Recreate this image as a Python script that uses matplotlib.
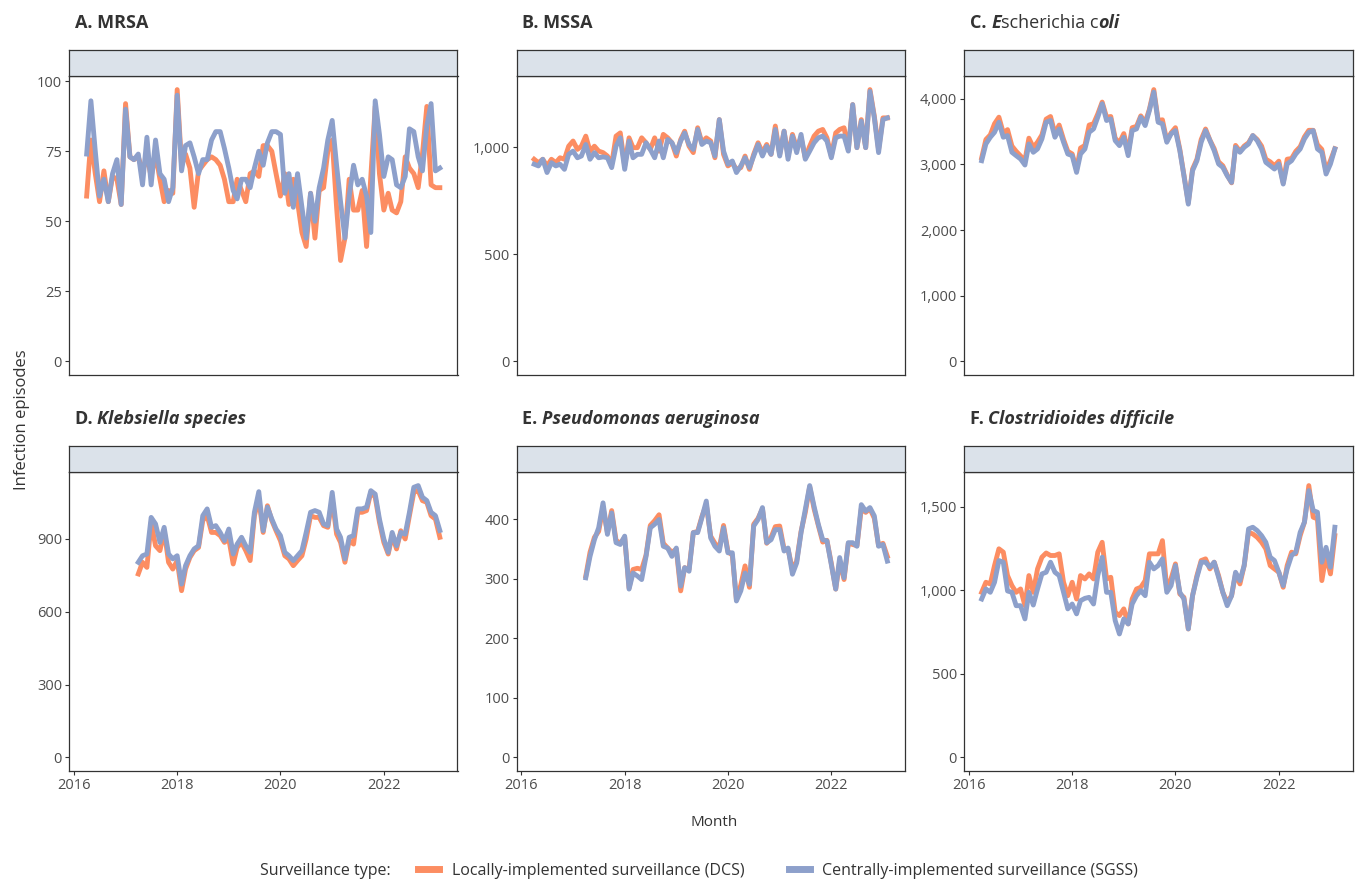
import matplotlib
matplotlib.use("Agg")
import matplotlib.pyplot as plt
import matplotlib.dates as mdates
from matplotlib.lines import Line2D
from matplotlib.ticker import MultipleLocator, FuncFormatter
import pandas as pd

# monthly infection episodes
months_long = pd.date_range("2016-04-01", "2023-02-01", freq="MS")
months_short = pd.date_range("2017-04-01", "2023-02-01", freq="MS")

mrsa_dcs = [59, 79, 67, 57, 68, 57, 66, 65, 56, 92,
            73, 72, 73, 68, 73, 66, 74, 65, 57, 61,
            60, 97, 70, 74, 69, 55, 68, 70, 72, 73,
            72, 70, 65, 57, 57, 65, 61, 57, 67, 68,
            66, 77, 77, 75, 67, 59, 67, 56, 65, 57,
            46, 41, 60, 44, 61, 62, 75, 79, 55, 36,
            44, 65, 54, 54, 61, 41, 66, 91, 67, 54,
            60, 54, 53, 57, 73, 69, 67, 62, 74, 91,
            63, 62, 62]
mrsa_sgss = [74, 93, 75, 59, 65, 57, 67, 72, 56, 90,
             73, 72, 74, 63, 80, 63, 79, 67, 65, 57,
             62, 95, 68, 77, 78, 73, 67, 72, 72, 79,
             82, 82, 76, 69, 61, 58, 65, 65, 62, 69,
             75, 70, 78, 82, 82, 81, 60, 67, 55, 67,
             55, 44, 60, 50, 62, 69, 79, 86, 70, 57,
             44, 59, 70, 63, 65, 59, 46, 93, 81, 66,
             73, 72, 63, 62, 66, 83, 82, 73, 68, 84,
             92, 68, 69]

mssa_dcs = [943, 927, 943, 912, 943, 927, 950, 943, 1004, 1028,
            989, 1004, 1051, 981, 1004, 981, 974, 958, 920, 1051,
            1066, 912, 1043, 997, 997, 1043, 1020, 989, 1043, 981,
            1059, 1043, 1020, 958, 1035, 1074, 1004, 974, 1090, 1020,
            1043, 1028, 950, 1128, 966, 912, 927, 896, 904, 958,
            896, 966, 1020, 974, 1012, 966, 1098, 966, 1074, 958,
            1059, 997, 1043, 950, 1004, 1051, 1074, 1082, 1043, 958,
            1066, 1082, 1090, 989, 1198, 997, 1128, 997, 1268, 1144,
            989, 1136, 1136]
mssa_sgss = [920, 912, 943, 881, 927, 912, 920, 896, 966, 981,
             950, 958, 1012, 943, 974, 950, 954, 950, 904, 1004,
             1043, 896, 1028, 950, 966, 966, 1020, 989, 950, 1028,
             950, 1035, 1020, 974, 1028, 1066, 1012, 989, 1082, 1012,
             1028, 1020, 958, 1128, 981, 920, 935, 881, 912, 950,
             904, 958, 1012, 958, 1004, 966, 1082, 958, 1074, 943,
             1051, 974, 1059, 943, 981, 1020, 1043, 1051, 1028, 950,
             1043, 1051, 1051, 981, 1198, 997, 1121, 997, 1260, 1136,
             974, 1128, 1136]

ecoli_dcs = [3100, 3380, 3450, 3620, 3720, 3480, 3530, 3280, 3200, 3130,
             3060, 3400, 3260, 3340, 3450, 3690, 3730, 3470, 3600, 3380,
             3200, 3160, 2920, 3250, 3290, 3600, 3620, 3770, 3950, 3720,
             3730, 3400, 3330, 3470, 3180, 3560, 3580, 3740, 3640, 3840,
             4140, 3670, 3680, 3360, 3480, 3560, 3230, 2840, 2420, 2930,
             3080, 3380, 3540, 3370, 3240, 3040, 2980, 2840, 2720, 3290,
             3200, 3280, 3330, 3440, 3380, 3280, 3080, 3040, 2980, 3050,
             2720, 3080, 3090, 3200, 3270, 3420, 3520, 3520, 3300, 3230,
             2900, 3060, 3240]
ecoli_sgss = [3057, 3312, 3414, 3490, 3643, 3414, 3440, 3185, 3134, 3083,
              2991, 3312, 3185, 3236, 3389, 3643, 3669, 3414, 3541, 3338,
              3159, 3134, 2879, 3159, 3236, 3490, 3541, 3720, 3924, 3669,
              3694, 3363, 3287, 3414, 3134, 3516, 3541, 3720, 3592, 3822,
              4102, 3643, 3618, 3338, 3465, 3516, 3210, 2828, 2395, 2905,
              3057, 3338, 3516, 3363, 3210, 3007, 2956, 2828, 2726, 3261,
              3185, 3261, 3312, 3440, 3363, 3236, 3032, 2981, 2930, 3007,
              2701, 3007, 3057, 3159, 3236, 3389, 3490, 3516, 3236, 3185,
              2854, 3007, 3236]

kleb_dcs = [756, 804, 783, 969, 872, 852, 934, 804, 776, 811,
            687, 776, 824, 852, 865, 976, 996, 927, 927, 914,
            886, 900, 797, 865, 886, 852, 811, 996, 1065, 927,
            1037, 976, 934, 893, 831, 818, 790, 811, 831, 900,
            996, 989, 989, 955, 948, 1065, 920, 886, 804, 893,
            879, 1010, 1010, 1017, 1092, 1072, 969, 886, 838, 914,
            859, 934, 900, 996, 1092, 1099, 1058, 1051, 996, 982,
            907]
kleb_sgss = [804, 831, 838, 989, 962, 886, 948, 838, 818, 831,
             714, 790, 831, 859, 872, 996, 1024, 948, 955, 927,
             893, 941, 838, 879, 907, 872, 845, 1010, 1095, 934,
             1031, 982, 941, 914, 845, 831, 811, 831, 852, 927,
             1010, 1017, 1010, 962, 955, 1092, 941, 907, 818, 907,
             914, 1024, 1024, 1031, 1099, 1085, 982, 900, 845, 927,
             872, 927, 920, 1010, 1113, 1120, 1072, 1058, 1010, 996,
             935]

pseud_dcs = [305, 345, 370, 380, 420, 378, 415, 365, 360, 370,
             285, 316, 318, 316, 340, 390, 398, 408, 360, 352,
             345, 350, 280, 319, 316, 378, 380, 405, 425, 372,
             360, 352, 390, 346, 340, 265, 290, 322, 286, 392,
             402, 418, 360, 370, 388, 389, 350, 350, 316, 330,
             380, 412, 455, 418, 390, 362, 365, 326, 283, 330,
             299, 360, 358, 356, 418, 412, 418, 402, 356, 360,
             338]
pseud_sgss = [302, 338, 366, 386, 428, 375, 411, 361, 358, 372,
              283, 310, 305, 299, 338, 386, 392, 400, 355, 352,
              338, 352, 288, 319, 313, 378, 378, 403, 431, 369,
              355, 347, 386, 344, 344, 263, 280, 310, 291, 389,
              400, 420, 361, 366, 383, 383, 347, 352, 308, 327,
              378, 417, 457, 422, 392, 366, 364, 324, 283, 336,
              302, 361, 361, 355, 425, 414, 420, 406, 355, 358,
              330]

cdiff_dcs = [987, 1047, 1037, 1147, 1247, 1227, 1087, 1027, 987, 1007,
             907, 1087, 987, 1127, 1197, 1222, 1207, 1207, 1217, 1047,
             967, 1047, 947, 1087, 1067, 1097, 1067, 1227, 1286, 1067,
             1077, 868, 848, 888, 798, 947, 1007, 1017, 1057, 1217,
             1217, 1217, 1296, 1007, 1067, 1157, 977, 957, 768, 967,
             1087, 1177, 1187, 1127, 1167, 1087, 987, 927, 967, 1097,
             1037, 1147, 1346, 1336, 1316, 1286, 1247, 1147, 1127, 1107,
             1017, 1147, 1227, 1217, 1326, 1406, 1625, 1436, 1426, 1057,
             1207, 1097, 1326]
cdiff_sgss = [947, 1007, 987, 1047, 1177, 1167, 995, 987, 907, 907,
              828, 987, 911, 1007, 1097, 1107, 1167, 1107, 1087, 987,
              888, 917, 858, 937, 951, 957, 917, 1087, 1197, 987,
              987, 818, 738, 828, 798, 917, 967, 997, 967, 1167,
              1127, 1147, 1187, 987, 1027, 1147, 987, 947, 768, 967,
              1077, 1167, 1167, 1137, 1167, 1077, 987, 907, 967, 1107,
              1057, 1147, 1366, 1376, 1356, 1326, 1286, 1197, 1177, 1107,
              1027, 1127, 1207, 1227, 1346, 1406, 1595, 1476, 1466, 1167,
              1256, 1137, 1376]

series_names = ["Locally-implemented surveillance (DCS)",
                "Centrally-implemented surveillance (SGSS)"]

# title pieces: (text, weight, style)
titles = [
    [("A. MRSA", "bold", "normal")],
    [("B. MSSA", "bold", "normal")],
    [("C. ", "bold", "normal"), ("E", "bold", "italic"),
     ("scherichia c", "normal", "normal"), ("oli", "bold", "italic")],
    [("D. ", "bold", "normal"), ("Klebsiella species", "bold", "italic")],
    [("E. ", "bold", "normal"), ("Pseudomonas aeruginosa", "bold", "italic")],
    [("F. ", "bold", "normal"), ("Clostridioides difficile", "bold", "italic")],
]

panel_data = [
    (months_long, mrsa_dcs, mrsa_sgss, 25),
    (months_long, mssa_dcs, mssa_sgss, 500),
    (months_long, ecoli_dcs, ecoli_sgss, 1000),
    (months_short, kleb_dcs, kleb_sgss, 300),
    (months_short, pseud_dcs, pseud_sgss, 100),
    (months_long, cdiff_dcs, cdiff_sgss, 500),
]

ORANGE = "#FC8D62"
BLUE = "#8DA0CB"
DARK = "#333333"
TICKC = "#4d4d4d"

W, H = 1357, 882
plt.rcParams["font.family"] = ["Open Sans", "DejaVu Sans"]

fig = plt.figure(figsize=(W / 100, H / 100), dpi=100)
renderer = fig.canvas.get_renderer()

lefts = [69, 516.5, 964]
pw = 388.5
rows = [dict(strip=50, top=76, bottom=375, title=28.5),
        dict(strip=446, top=472, bottom=771, title=423.5)]

x0 = mdates.date2num(months_long[0])
x1 = mdates.date2num(months_long[-1])
xpad = (x1 - x0) * 0.05


def thousands(v, pos):
    return f"{v:,.0f}"


for k, (dates, dcs, sgss, step) in enumerate(panel_data):
    r, c = divmod(k, 3)
    geo = rows[r]
    left = lefts[c]

    ax = fig.add_axes([left / W, 1 - geo["bottom"] / H,
                       pw / W, (geo["bottom"] - geo["top"]) / H])
    ax.plot(dates, dcs, color=ORANGE, lw=3.5, solid_joinstyle="round")
    ax.plot(dates, sgss, color=BLUE, lw=3.5, solid_joinstyle="round")

    hi = max(max(dcs), max(sgss))
    ax.set_ylim(-0.05 * hi, hi * 1.05)
    ax.set_xlim(x0 - xpad, x1 + xpad)
    ax.yaxis.set_major_locator(MultipleLocator(step))
    ax.yaxis.set_major_formatter(FuncFormatter(thousands))
    ax.xaxis.set_major_locator(mdates.YearLocator(2))
    ax.xaxis.set_major_formatter(mdates.DateFormatter("%Y"))

    for sp in ax.spines.values():
        sp.set_color(DARK)
        sp.set_linewidth(0.9)
    ax.tick_params(axis="both", colors=DARK, labelcolor=TICKC,
                   labelsize=10.5, length=3, width=0.8, pad=2)
    if r == 0:
        ax.tick_params(axis="x", bottom=False, labelbottom=False)

    # empty facet strip above each panel
    sax = fig.add_axes([left / W, 1 - geo["top"] / H,
                        pw / W, (geo["top"] - geo["strip"]) / H])
    sax.set_facecolor("#dbe2ea")
    sax.set_xticks([])
    sax.set_yticks([])
    for sp in sax.spines.values():
        sp.set_color(DARK)
        sp.set_linewidth(0.9)

    # panel title built from pieces with mixed styles
    tx = (left + 6) / W
    for txt, weight, style in titles[k]:
        t = fig.text(tx, 1 - geo["title"] / H, txt, fontsize=13,
                     fontweight=weight, fontstyle=style, color=DARK,
                     ha="left", va="baseline")
        bb = t.get_window_extent(renderer=renderer)
        tx = bb.x1 / W

fig.text(22 / W, 1 - 420 / H, "Infection episodes", rotation=90,
         fontsize=12, color=DARK, ha="center", va="center")
fig.text(714 / W, 1 - 823 / H, "Month", fontsize=11, color=DARK,
         ha="center", va="center")

fig.text(325 / W, 1 - 871 / H, "Surveillance type:", fontsize=11.5,
         color=DARK, ha="center", va="center")
handles = [Line2D([], [], color=ORANGE, lw=5),
           Line2D([], [], color=BLUE, lw=5)]
fig.legend(handles, series_names, loc="center left",
           bbox_to_anchor=(418 / W, 1 - 871 / H), ncol=2, frameon=False,
           fontsize=11.5, handlelength=1.3, handletextpad=0.8,
           columnspacing=2.8, labelcolor=DARK, borderaxespad=0,
           borderpad=0)

fig.savefig("out.png", dpi=100)
